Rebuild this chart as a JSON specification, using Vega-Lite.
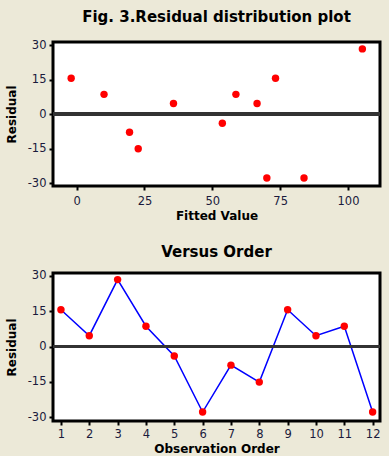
{
  "$schema": "https://vega.github.io/schema/vega-lite/v6.json",
  "background": "#ECE9D8",
  "padding": {"left": 3, "top": 8, "right": 5, "bottom": 0},
  "spacing": 20,
  "config": {
    "font": "DejaVu Sans",
    "view": {"stroke": "#000000", "strokeWidth": 3, "fill": "#FFFFFF"},
    "axis": {
      "grid": false,
      "domain": false,
      "ticks": true,
      "tickColor": "#000000",
      "tickWidth": 2,
      "tickSize": 4,
      "labelFont": "DejaVu Sans",
      "labelFontSize": 11.5,
      "labelColor": "#1a1a3c",
      "labelPadding": 3,
      "titleFont": "DejaVu Sans",
      "titleFontSize": 12,
      "titleFontWeight": "bold",
      "titleColor": "#000000"
    },
    "title": {"font": "DejaVu Sans", "fontSize": 15, "fontWeight": "bold", "color": "#000000", "anchor": "middle"}
  },
  "datasets": {
    "resid": [
      {"order": 1, "fitted": -2.0, "residual": 15.6},
      {"order": 2, "fitted": 35.7, "residual": 4.6},
      {"order": 3, "fitted": 105.3, "residual": 28.4},
      {"order": 4, "fitted": 10.1, "residual": 8.6},
      {"order": 5, "fitted": 53.7, "residual": -4.0},
      {"order": 6, "fitted": 70.1, "residual": -27.8},
      {"order": 7, "fitted": 19.5, "residual": -7.9},
      {"order": 8, "fitted": 22.7, "residual": -15.1},
      {"order": 9, "fitted": 73.3, "residual": 15.6},
      {"order": 10, "fitted": 66.5, "residual": 4.6},
      {"order": 11, "fitted": 58.7, "residual": 8.6},
      {"order": 12, "fitted": 83.8, "residual": -27.8}
    ]
  },
  "vconcat": [
    {
      "title": {"text": "Fig. 3.Residual distribution plot", "offset": 14},
      "width": 327,
      "height": 144,
      "data": {"name": "resid"},
      "layer": [
        {
          "mark": {"type": "circle", "color": "#FF0000", "opacity": 1, "size": 55},
          "encoding": {
            "x": {"field": "fitted", "type": "quantitative", "title": "Fitted Value",
                  "scale": {"domain": [-8.7, 111.8], "nice": false, "zero": false},
                  "axis": {"values": [0, 25, 50, 75, 100], "labelPadding": 5, "titlePadding": 4, "labelOverlap": false,
                           "labelExpr": "datum.value < 0 ? '-' + abs(datum.value) : '' + datum.value"}},
            "y": {"field": "residual", "type": "quantitative", "title": "Residual",
                  "scale": {"domain": [-31.3, 31.4], "nice": false, "zero": false},
                  "axis": {"values": [-30, -15, 0, 15, 30], "titlePadding": 9, "labelOverlap": false,
                           "labelExpr": "datum.value < 0 ? '-' + abs(datum.value) : '' + datum.value"}}
          }
        },
        {
          "mark": {"type": "rule", "color": "#333333", "strokeWidth": 3.5},
          "encoding": {"y": {"datum": 0, "type": "quantitative", "title": "Residual",
                  "scale": {"domain": [-31.3, 31.4], "nice": false, "zero": false},
                  "axis": {"values": [-30, -15, 0, 15, 30], "titlePadding": 9, "labelOverlap": false,
                           "labelExpr": "datum.value < 0 ? '-' + abs(datum.value) : '' + datum.value"}}}
        }
      ]
    },
    {
      "title": {"text": "Versus Order", "offset": 10},
      "width": 327,
      "height": 148,
      "data": {"name": "resid"},
      "layer": [
        {
          "mark": {"type": "line", "color": "#0000FF", "strokeWidth": 1.5},
          "encoding": {
            "x": {"field": "order", "type": "quantitative", "title": "Observation Order",
                  "scale": {"domain": [0.72, 12.26], "nice": false, "zero": false},
                  "axis": {"values": [1, 2, 3, 4, 5, 6, 7, 8, 9, 10, 11, 12], "labelPadding": 3, "titlePadding": 4, "labelOverlap": false,
                           "labelExpr": "'' + datum.value"}},
            "y": {"field": "residual", "type": "quantitative", "title": "Residual",
                  "scale": {"domain": [-31.6, 31.2], "nice": false, "zero": false},
                  "axis": {"values": [-30, -15, 0, 15, 30], "titlePadding": 9, "labelOverlap": false,
                           "labelExpr": "datum.value < 0 ? '-' + abs(datum.value) : '' + datum.value"}}
          }
        },
        {
          "mark": {"type": "rule", "color": "#333333", "strokeWidth": 2.5},
          "encoding": {"y": {"datum": 0, "type": "quantitative", "title": "Residual",
                  "scale": {"domain": [-31.6, 31.2], "nice": false, "zero": false},
                  "axis": {"values": [-30, -15, 0, 15, 30], "titlePadding": 9, "labelOverlap": false,
                           "labelExpr": "datum.value < 0 ? '-' + abs(datum.value) : '' + datum.value"}}}
        },
        {
          "mark": {"type": "circle", "color": "#FF0000", "opacity": 1, "size": 55},
          "encoding": {
            "x": {"field": "order", "type": "quantitative", "title": "Observation Order",
                  "scale": {"domain": [0.72, 12.26], "nice": false, "zero": false},
                  "axis": {"values": [1, 2, 3, 4, 5, 6, 7, 8, 9, 10, 11, 12], "labelPadding": 3, "titlePadding": 4, "labelOverlap": false,
                           "labelExpr": "'' + datum.value"}},
            "y": {"field": "residual", "type": "quantitative", "title": "Residual",
                  "scale": {"domain": [-31.6, 31.2], "nice": false, "zero": false},
                  "axis": {"values": [-30, -15, 0, 15, 30], "titlePadding": 9, "labelOverlap": false,
                           "labelExpr": "datum.value < 0 ? '-' + abs(datum.value) : '' + datum.value"}}
          }
        }
      ]
    }
  ]
}
